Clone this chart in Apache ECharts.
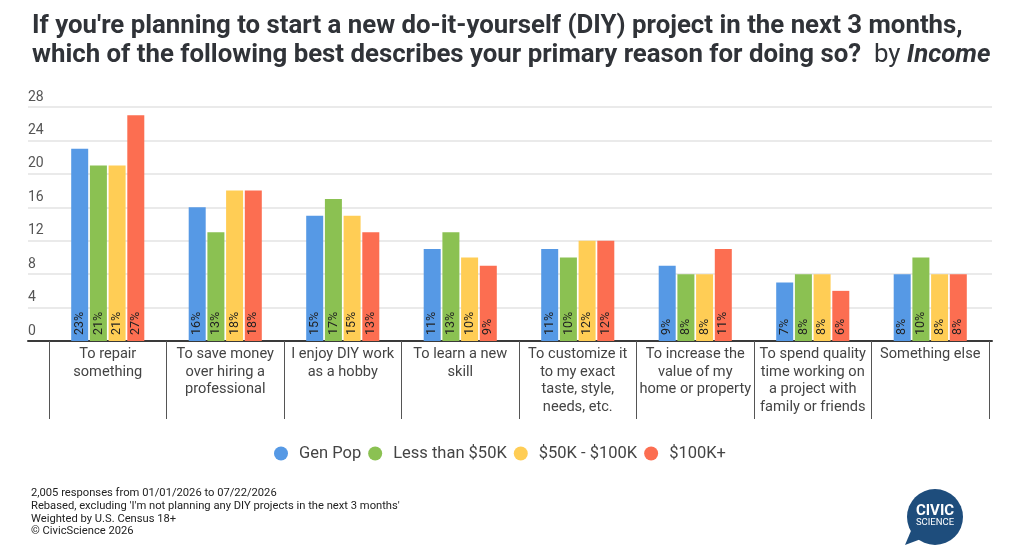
<!DOCTYPE html>
<html>
<head>
<meta charset="utf-8">
<script src="https://cdn.jsdelivr.net/npm/echarts@6/dist/echarts.min.js"></script>
<style>
html,body{margin:0;padding:0;background:#fff;}
#c{width:1024px;height:552px;}
</style>
</head>
<body>
<div id="c"></div>
<script>
const categories = [
  "To repair\nsomething",
  "To save money\nover hiring a\nprofessional",
  "I enjoy DIY work\nas a hobby",
  "To learn a new\nskill",
  "To customize it\nto my exact\ntaste, style,\nneeds, etc.",
  "To increase the\nvalue of my\nhome or property",
  "To spend quality\ntime working on\na project with\nfamily or friends",
  "Something else"
];
const seriesNames = ["Gen Pop", "Less than $50K", "$50K - $100K", "$100K+"];
const genPop    = [23, 16, 15, 11, 11, 9, 7, 8];
const lessThan50k = [21, 13, 17, 13, 10, 8, 8, 10];
const k50to100  = [21, 18, 15, 10, 12, 8, 8, 8];
const k100plus  = [27, 18, 13, 9, 12, 11, 6, 8];
const yTicks = [0, 4, 8, 12, 16, 20, 24, 28];
const colors = ["#5699E5", "#8BC152", "#FFCD55", "#FC6E51"];
const footerLines = [
  "2,005 responses from 01/01/2026 to 07/22/2026",
  "Rebased, excluding 'I'm not planning any DIY projects in the next 3 months'",
  "Weighted by U.S. Census 18+",
  "\u00A9 CivicScience 2026"
];

const FONT = "Roboto, 'Noto Sans', sans-serif";
const chart = echarts.init(document.getElementById('c'), null, {renderer: 'canvas'});

const allData = [genPop, lessThan50k, k50to100, k100plus];
const series = allData.map((d, i) => ({
  name: seriesNames[i],
  type: 'bar',
  xAxisIndex: 1,
  yAxisIndex: 1,
  data: d,
  barWidth: 17,
  barGap: '10%',
  itemStyle: {color: colors[i]},
  label: {
    show: true,
    position: 'insideBottom',
    rotate: 90,
    align: 'left',
    verticalAlign: 'middle',
    distance: 6,
    formatter: '{c}%',
    fontSize: 12.5,
    color: '#222',
    fontFamily: FONT
  }
}));

const graphics = footerLines.map((t, i) => ({
  type: 'text',
  left: 31,
  top: 488 + i * 12.6,
  style: {text: t, fontSize: 11.2, fill: '#222', fontFamily: FONT}
}));
// logo
graphics.push({
  type: 'group',
  left: 905, top: 489,
  children: [
    {type: 'polygon', shape: {points: [[10, 38], [2, 57], [26, 48]]}, style: {fill: '#1E4D7C'}},
    {type: 'circle', shape: {cx: 32, cy: 29, r: 28}, style: {fill: '#1E4D7C'}},
    {type: 'text', style: {text: 'CIVIC', x: 32, y: 23, align: 'center', verticalAlign: 'middle', fontSize: 15, fontWeight: 'bold', fill: '#fff', fontFamily: FONT}},
    {type: 'text', style: {text: 'SCIENCE', x: 32, y: 35, align: 'center', verticalAlign: 'middle', fontSize: 9.5, fill: '#fff', fontFamily: FONT}}
  ]
});

chart.setOption({
  animation: false,
  backgroundColor: '#fff',
  color: colors,
  title: {
    left: 32,
    top: 12,
    padding: 0,
    text: "{b|If you're planning to start a new do-it-yourself (DIY) project in the next 3 months,}\n{b|which of the following best describes your primary reason for doing so?}{n|  by }{i|Income}",
    textStyle: {
      rich: {
        b: {fontSize: 25.8, fontWeight: 'bold', color: '#303338', fontFamily: FONT, lineHeight: 29},
        n: {fontSize: 25.8, fontWeight: 'normal', color: '#303338', fontFamily: FONT, lineHeight: 29},
        i: {fontSize: 25.8, fontWeight: 'bold', fontStyle: 'italic', color: '#303338', fontFamily: FONT, lineHeight: 29}
      }
    }
  },
  legend: {
    left: 274,
    top: 445,
    padding: 0,
    icon: 'circle',
    itemWidth: 26,
    itemHeight: 14,
    itemGap: 7,
    data: seriesNames,
    textStyle: {fontSize: 16.5, color: '#444', fontFamily: FONT}
  },
  grid: [
    {left: 28, right: 32, top: 107, bottom: 211},
    {left: 49, right: 35, top: 107, bottom: 211}
  ],
  xAxis: [
    {
      gridIndex: 0, type: 'value', min: 0, max: 1,
      axisLine: {show: true, onZero: false, lineStyle: {color: '#3a3a3a', width: 2}},
      axisTick: {show: false}, axisLabel: {show: false}, splitLine: {show: false}
    },
    {
      gridIndex: 1, type: 'category', data: categories,
      axisLine: {show: false},
      axisTick: {show: true, length: 78, interval: 0, lineStyle: {color: '#555', width: 1}},
      axisLabel: {interval: 0, fontSize: 14.6, color: '#444', lineHeight: 17.4, margin: 5, fontFamily: FONT, verticalAlign: 'top'}
    }
  ],
  yAxis: [
    {
      gridIndex: 0, type: 'value', min: yTicks[0], max: yTicks[yTicks.length - 1], interval: yTicks[1] - yTicks[0],
      axisLine: {show: false}, axisTick: {show: false},
      splitLine: {lineStyle: {color: '#e3e3e3', width: 1.5}},
      axisLabel: {inside: true, margin: 0, verticalAlign: 'bottom', padding: [0, 0, 3, 0], fontSize: 14, color: '#555', fontFamily: FONT}
    },
    {
      gridIndex: 1, type: 'value', min: 0, max: 28, interval: 4, show: false,
      splitLine: {show: false}
    }
  ],
  series: series,
  graphic: graphics
});
</script>
</body>
</html>
